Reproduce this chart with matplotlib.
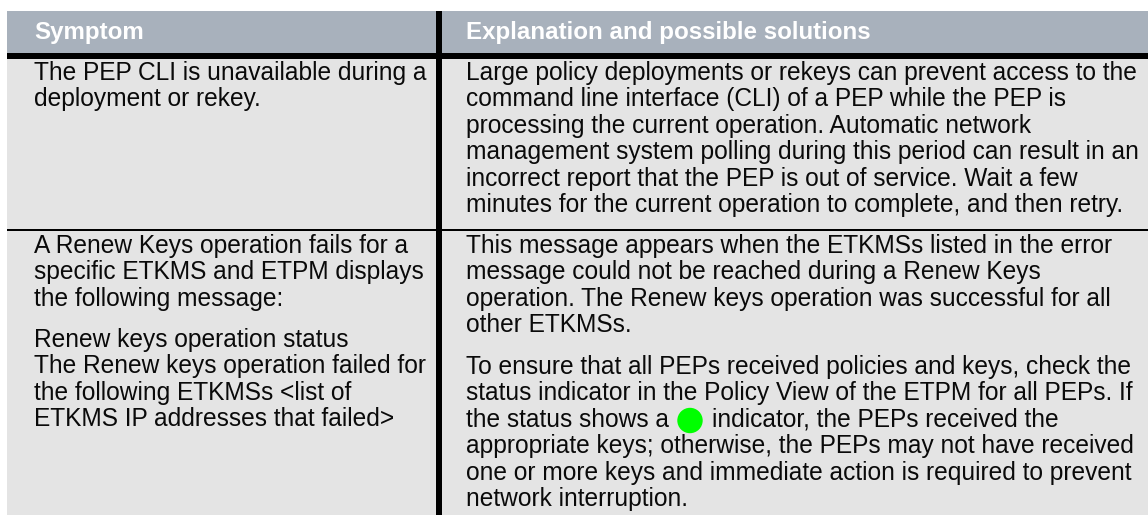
import matplotlib
matplotlib.use("Agg")
import matplotlib.pyplot as plt
from matplotlib.patches import Rectangle, Circle

W, H = 1148, 515

headers = ["Symptom", "Explanation and possible solutions"]

left_row1 = ["The PEP CLI is unavailable during a", "deployment or rekey."]
right_row1 = [
    "Large policy deployments or rekeys can prevent access to the",
    "command line interface (CLI) of a PEP while the PEP is",
    "processing the current operation. Automatic network",
    "management system polling during this period can result in an",
    "incorrect report that the PEP is out of service. Wait a few",
    "minutes for the current operation to complete, and then retry.",
]
left_row2a = [
    "A Renew Keys operation fails for a",
    "specific ETKMS and ETPM displays",
    "the following message:",
]
left_row2b = [
    "Renew keys operation status",
    "The Renew keys operation failed for",
    "the following ETKMSs <list of",
    "ETKMS IP addresses that failed>",
]
right_row2a = [
    "This message appears when the ETKMSs listed in the error",
    "message could not be reached during a Renew Keys",
    "operation. The Renew keys operation was successful for all",
    "other ETKMSs.",
]
right_row2b = [
    "To ensure that all PEPs received policies and keys, check the",
    "status indicator in the Policy View of the ETPM for all PEPs. If",
    "the status shows a",
    "appropriate keys; otherwise, the PEPs may not have received",
    "one or more keys and immediate action is required to prevent",
    "network interruption.",
]
after_dot = "indicator, the PEPs received the"

plt.rcParams["font.family"] = ["Liberation Sans", "DejaVu Sans"]

fig = plt.figure(figsize=(W / 100, H / 100), dpi=100, facecolor="white")
ax = fig.add_axes([0, 0, 1, 1])
ax.set_xlim(0, W)
ax.set_ylim(H, 0)
ax.axis("off")

# backgrounds and rules
ax.add_patch(Rectangle((7, 11), W - 7, 42, fc="#a8b1bc", ec="none"))
ax.add_patch(Rectangle((7, 59), W - 7, H - 59, fc="#e4e4e4", ec="none"))
ax.add_patch(Rectangle((7, 53), W - 7, 6, fc="black", ec="none"))
ax.add_patch(Rectangle((7, 229), W - 7, 2, fc="black", ec="none"))
ax.add_patch(Rectangle((436, 11), 6, H - 11, fc="black", ec="none"))

FS = 17.65
STEP = 26.4


def block(x, y, lines):
    for i, line in enumerate(lines):
        ax.text(x, y + i * STEP, line, fontsize=FS, color="#0a0a0a", va="baseline", ha="left")


ax.text(34, 39.5, headers[0], fontsize=17.4, color="white", weight="bold", va="baseline")
ax.text(466, 39.5, headers[1], fontsize=17.4, color="white", weight="bold", va="baseline")

block(34, 80, left_row1)
block(466, 80, right_row1)
block(34, 253, left_row2a)
block(34, 347, left_row2b)
block(466, 253, right_row2a)
block(466, 374, right_row2b)

ax.add_patch(Circle((690, 420.5), 12.7, fc="#00ff00", ec="none"))
ax.text(711.5, 374 + 2 * STEP, after_dot, fontsize=FS, color="#0a0a0a", va="baseline")

fig.savefig("out.png", dpi=100)
